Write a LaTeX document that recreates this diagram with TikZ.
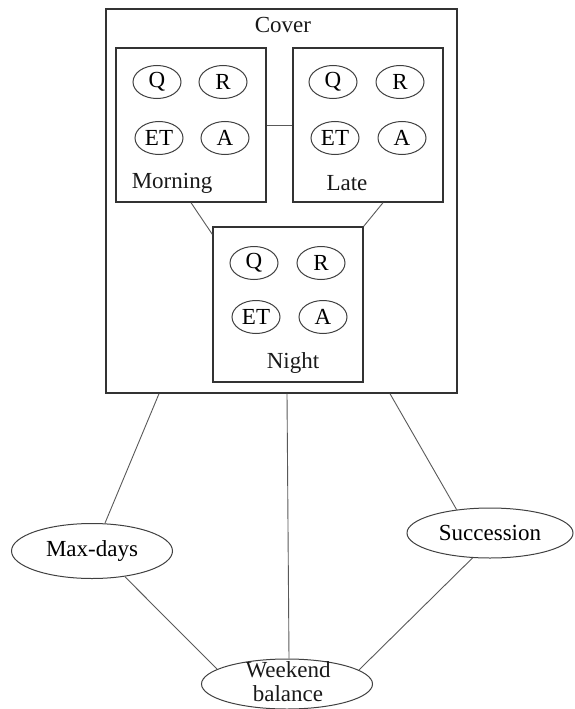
\documentclass[tikz,border=0pt]{standalone}
\usepackage{fontspec}
\setmainfont{Liberation Serif}
\newfontfamily\diagfont{Liberation Serif}
\usetikzlibrary{shapes.geometric}
\tikzset{
  boxnode/.style={draw=black!80, line width=1.4pt, rectangle, inner sep=0pt},
  ovalnode/.style={draw=black!75, line width=1pt, ellipse, inner sep=0pt},
  smallov/.style={ovalnode, minimum width=48pt, minimum height=33pt},
  txt/.style={inner sep=0pt, text=black!90},
  link/.style={draw=black!65, line width=0.9pt}
}
\begin{document}
\begin{tikzpicture}[x=1pt, y=-1pt, font=\diagfont\fontsize{23}{24}\selectfont]
\useasboundingbox (0,0) rectangle (574,709);
% boxes
\node[boxnode, minimum width=351pt, minimum height=384pt] (cover) at (281.5,201) {};
\node[boxnode, minimum width=150pt, minimum height=154pt] (morning) at (191,125) {};
\node[boxnode, minimum width=150pt, minimum height=154pt] (late) at (368,125) {};
\node[boxnode, minimum width=150pt, minimum height=155pt] (night) at (288,304.5) {};
% box labels
\node[txt] (covert) at (283,25) {Cover};
\node[txt] (morningt) at (172,183) {Morning};
\node[txt] (latet) at (347,183) {Late};
\node[txt] (nightt) at (293,363) {Night};
% morning ellipses
\node[smallov] (mq) at (157,82) {Q};
\node[smallov] (mr) at (223,82) {R};
\node[smallov] (met) at (159,138) {ET};
\node[smallov] (ma) at (225,138) {A};
% late ellipses
\node[smallov] (lq) at (333,82) {Q};
\node[smallov] (lr) at (400,82) {R};
\node[smallov] (let) at (335,138) {ET};
\node[smallov] (la) at (402,138) {A};
% night ellipses
\node[smallov] (nq) at (254,263) {Q};
\node[smallov] (nr) at (321,263) {R};
\node[smallov] (net) at (256,317) {ET};
\node[smallov] (na) at (323,317) {A};
% lower ellipses
\node[ovalnode, minimum width=161pt, minimum height=55pt] (maxdays) at (92,551) {Max-days};
\node[ovalnode, minimum width=166pt, minimum height=50pt] (succ) at (490,533) {Succession};
\node[ovalnode, minimum width=171pt, minimum height=50pt] (weekend) at (287,684) {};
\node[txt, align=center] (weekendt) at (288,682) {Weekend\\balance};
% connectors
\draw[link] (morning.east) -- (late.west);
\draw[link] (morning.south) -- ([yshift=-8pt]night.north west);
\draw[link] ([xshift=15pt]late.south) -- (night.north east);
\draw[link] ([xshift=-122.5pt]cover.south) -- (maxdays.65);
\draw[link] ([xshift=5.5pt]cover.south) -- ([xshift=2pt]weekend.north);
\draw[link] ([xshift=108.5pt]cover.south) -- (succ.145);
\draw[link] (maxdays.322) -- (weekend.168);
\draw[link] (succ.235) -- (weekend.11);
\end{tikzpicture}
\end{document}
